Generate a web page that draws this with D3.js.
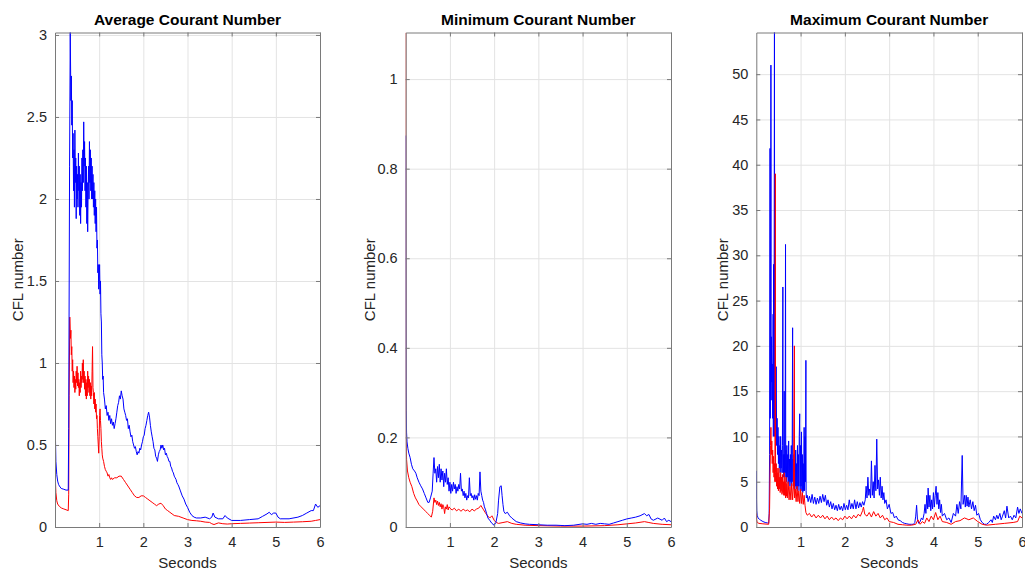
<!DOCTYPE html>
<html><head><meta charset="utf-8">
<script src="https://cdn.jsdelivr.net/npm/d3@7"></script>
<style>
html,body{margin:0;padding:0;background:#fff;}
svg{display:block;font-family:"Liberation Sans",Arial,Helvetica,sans-serif;}
</style></head>
<body><svg id="chart" width="1025" height="574"></svg>
<script>
// ---------- DATA ----------
const titles = ["Average Courant Number", "Minimum Courant Number", "Maximum Courant Number"];
const xLabel = "Seconds";
const yLabel = "CFL number";
const xTicks = [1, 2, 3, 4, 5, 6];
const yTicksAvg = [0, 0.5, 1, 1.5, 2, 2.5, 3];
const yTicksMin = [0, 0.2, 0.4, 0.6, 0.8, 1];
const yTicksMax = [0, 5, 10, 15, 20, 25, 30, 35, 40, 45, 50];
const yMaxes = [3.015, 1.104, 54.6];

// [seconds, CFL]
const avgBlue = [[0,1.72],[0.005,0.9],[0.01,0.55],[0.02,0.4],[0.04,0.32],[0.06,0.28],[0.08,0.26],[0.1,0.25],[0.14,0.235],[0.2,0.23],[0.25,0.225],[0.3,0.225],[0.31,0.6],[0.33,2.2],[0.345,3.02],[0.36,2.6],[0.37,2.75],[0.38,2.45],[0.39,2.6],[0.4,2.25],[0.41,2.4],[0.42,2.05],[0.43,2.3],[0.44,1.95],[0.45,2.42],[0.46,2.1],[0.47,2.25],[0.48,1.88],[0.49,2.2],[0.5,2.0],[0.51,2.15],[0.52,1.95],[0.53,2.28],[0.54,2.05],[0.55,2.2],[0.56,1.9],[0.57,2.15],[0.58,1.85],[0.59,2.1],[0.6,1.95],[0.61,2.25],[0.62,2.05],[0.63,2.3],[0.64,2.1],[0.65,2.47],[0.66,2.2],[0.67,2.35],[0.68,2.05],[0.69,2.25],[0.7,1.95],[0.71,2.2],[0.72,1.85],[0.73,2.1],[0.74,1.8],[0.75,2.05],[0.76,2.2],[0.77,2.0],[0.78,2.35],[0.79,2.1],[0.8,2.3],[0.81,2.05],[0.82,2.25],[0.83,2.0],[0.84,2.2],[0.85,2.0],[0.86,2.15],[0.87,1.95],[0.88,2.1],[0.89,1.9],[0.9,2.05],[0.91,1.85],[0.92,2.0],[0.93,1.8],[0.94,1.95],[0.95,1.7],[0.96,1.75],[0.97,1.55],[0.98,1.6],[0.99,1.45],[1.0,1.5],[1.01,1.6],[1.02,1.42],[1.03,1.5],[1.04,1.3],[1.05,1.25],[1.06,1.05],[1.07,1.0],[1.08,0.9],[1.09,0.92],[1.1,0.82],[1.12,0.78],[1.14,0.72],[1.16,0.74],[1.18,0.68],[1.2,0.7],[1.22,0.65],[1.24,0.68],[1.26,0.63],[1.28,0.66],[1.3,0.62],[1.32,0.64],[1.34,0.6],[1.36,0.63],[1.38,0.66],[1.4,0.7],[1.42,0.74],[1.44,0.76],[1.46,0.8],[1.48,0.78],[1.5,0.83],[1.52,0.8],[1.54,0.78],[1.56,0.72],[1.58,0.7],[1.6,0.68],[1.62,0.65],[1.64,0.66],[1.66,0.6],[1.68,0.62],[1.7,0.58],[1.72,0.55],[1.74,0.56],[1.76,0.52],[1.78,0.5],[1.8,0.48],[1.82,0.49],[1.84,0.46],[1.86,0.44],[1.88,0.46],[1.9,0.45],[1.92,0.48],[1.94,0.47],[1.96,0.5],[1.98,0.52],[2.0,0.55],[2.02,0.56],[2.04,0.6],[2.06,0.62],[2.08,0.65],[2.1,0.68],[2.12,0.7],[2.14,0.67],[2.16,0.62],[2.18,0.58],[2.2,0.55],[2.22,0.52],[2.24,0.48],[2.26,0.47],[2.28,0.43],[2.3,0.42],[2.32,0.4],[2.34,0.44],[2.36,0.46],[2.38,0.47],[2.4,0.5],[2.42,0.48],[2.44,0.5],[2.46,0.47],[2.48,0.48],[2.5,0.44],[2.52,0.45],[2.54,0.43],[2.56,0.42],[2.58,0.4],[2.6,0.4],[2.62,0.37],[2.64,0.36],[2.66,0.34],[2.68,0.33],[2.7,0.31],[2.72,0.3],[2.74,0.29],[2.76,0.27],[2.78,0.26],[2.8,0.25],[2.84,0.22],[2.88,0.19],[2.92,0.17],[2.96,0.14],[3.0,0.12],[3.05,0.09],[3.1,0.07],[3.15,0.06],[3.2,0.055],[3.3,0.055],[3.4,0.06],[3.5,0.05],[3.55,0.06],[3.58,0.085],[3.62,0.06],[3.7,0.05],[3.8,0.05],[3.85,0.07],[3.9,0.055],[4.0,0.04],[4.2,0.04],[4.4,0.045],[4.6,0.05],[4.7,0.065],[4.8,0.08],[4.85,0.09],[4.9,0.075],[4.95,0.085],[5.0,0.085],[5.05,0.06],[5.1,0.05],[5.3,0.05],[5.5,0.06],[5.6,0.07],[5.7,0.085],[5.8,0.1],[5.85,0.1],[5.9,0.14],[5.95,0.12],[6.0,0.13]];

const avgRed = [[0,0.45],[0.005,0.35],[0.01,0.28],[0.02,0.21],[0.04,0.16],[0.06,0.14],[0.1,0.125],[0.15,0.115],[0.2,0.11],[0.25,0.105],[0.3,0.1],[0.31,0.2],[0.32,0.8],[0.335,1.28],[0.35,1.15],[0.36,1.2],[0.37,1.05],[0.38,1.1],[0.39,0.95],[0.4,1.02],[0.41,0.88],[0.42,0.95],[0.43,0.85],[0.44,0.92],[0.45,0.82],[0.46,0.9],[0.47,0.84],[0.48,0.95],[0.49,0.88],[0.5,0.98],[0.51,0.86],[0.52,0.94],[0.53,0.85],[0.54,0.9],[0.55,0.8],[0.56,0.88],[0.57,0.82],[0.58,0.95],[0.59,0.85],[0.6,0.92],[0.61,0.88],[0.62,1.0],[0.63,0.9],[0.64,1.02],[0.65,0.88],[0.66,0.95],[0.67,0.84],[0.68,0.92],[0.69,0.8],[0.7,0.9],[0.71,0.78],[0.72,0.88],[0.73,0.8],[0.74,0.95],[0.75,0.85],[0.76,0.92],[0.77,0.82],[0.78,0.9],[0.79,0.8],[0.8,0.88],[0.81,0.78],[0.82,0.86],[0.83,0.8],[0.84,0.95],[0.85,1.1],[0.86,0.85],[0.87,0.82],[0.88,0.75],[0.89,0.82],[0.9,0.72],[0.91,0.78],[0.92,0.7],[0.93,0.75],[0.94,0.66],[0.95,0.68],[0.96,0.6],[0.97,0.55],[0.98,0.5],[0.99,0.45],[1.0,0.55],[1.01,0.68],[1.02,0.72],[1.03,0.65],[1.04,0.6],[1.05,0.52],[1.06,0.48],[1.07,0.44],[1.08,0.42],[1.1,0.4],[1.12,0.37],[1.14,0.35],[1.16,0.34],[1.18,0.33],[1.2,0.31],[1.22,0.32],[1.24,0.3],[1.26,0.29],[1.28,0.3],[1.3,0.29],[1.35,0.3],[1.4,0.3],[1.45,0.31],[1.5,0.31],[1.55,0.29],[1.6,0.27],[1.65,0.25],[1.7,0.23],[1.75,0.21],[1.8,0.19],[1.85,0.18],[1.9,0.18],[1.95,0.19],[2.0,0.19],[2.05,0.18],[2.1,0.17],[2.15,0.16],[2.2,0.15],[2.25,0.14],[2.3,0.13],[2.35,0.14],[2.4,0.145],[2.45,0.13],[2.5,0.11],[2.55,0.1],[2.6,0.09],[2.65,0.08],[2.7,0.07],[2.8,0.065],[2.9,0.055],[3.0,0.045],[3.1,0.04],[3.2,0.038],[3.3,0.035],[3.4,0.03],[3.5,0.028],[3.55,0.02],[3.6,0.015],[3.7,0.025],[3.8,0.02],[3.9,0.018],[4.0,0.02],[4.2,0.022],[4.4,0.024],[4.6,0.026],[4.8,0.028],[5.0,0.03],[5.2,0.028],[5.4,0.03],[5.6,0.032],[5.8,0.035],[5.9,0.04],[6.0,0.045]];

const minBlue = [[0,0.874],[0.003,0.5],[0.006,0.33],[0.01,0.26],[0.02,0.21],[0.03,0.19],[0.05,0.175],[0.07,0.165],[0.1,0.155],[0.13,0.14],[0.16,0.13],[0.2,0.125],[0.23,0.12],[0.26,0.11],[0.3,0.1],[0.34,0.092],[0.38,0.085],[0.42,0.075],[0.46,0.065],[0.5,0.055],[0.53,0.055],[0.56,0.065],[0.6,0.08],[0.62,0.12],[0.64,0.155],[0.66,0.12],[0.68,0.13],[0.7,0.1],[0.72,0.135],[0.74,0.11],[0.76,0.14],[0.78,0.1],[0.8,0.13],[0.82,0.105],[0.84,0.125],[0.86,0.09],[0.88,0.12],[0.9,0.1],[0.92,0.13],[0.94,0.095],[0.96,0.11],[0.98,0.08],[1.0,0.1],[1.02,0.075],[1.04,0.095],[1.06,0.08],[1.08,0.1],[1.1,0.085],[1.12,0.095],[1.14,0.075],[1.16,0.09],[1.18,0.08],[1.2,0.095],[1.22,0.085],[1.24,0.12],[1.26,0.08],[1.28,0.085],[1.3,0.07],[1.32,0.08],[1.34,0.065],[1.36,0.075],[1.38,0.06],[1.4,0.07],[1.42,0.065],[1.44,0.11],[1.46,0.07],[1.48,0.075],[1.5,0.065],[1.52,0.07],[1.54,0.06],[1.56,0.072],[1.58,0.062],[1.6,0.07],[1.62,0.06],[1.64,0.075],[1.66,0.07],[1.68,0.123],[1.7,0.08],[1.72,0.07],[1.74,0.06],[1.76,0.055],[1.78,0.045],[1.8,0.04],[1.83,0.03],[1.86,0.02],[1.9,0.015],[1.95,0.008],[2.0,0.004],[2.04,0.01],[2.08,0.03],[2.1,0.06],[2.13,0.09],[2.16,0.092],[2.18,0.07],[2.2,0.05],[2.22,0.035],[2.25,0.03],[2.3,0.033],[2.35,0.025],[2.4,0.02],[2.5,0.012],[2.6,0.009],[2.7,0.007],[2.8,0.006],[3.0,0.005],[3.2,0.004],[3.4,0.004],[3.6,0.003],[3.8,0.004],[4.0,0.007],[4.1,0.006],[4.2,0.008],[4.3,0.006],[4.4,0.008],[4.5,0.007],[4.6,0.006],[4.7,0.009],[4.8,0.012],[4.9,0.015],[5.0,0.018],[5.1,0.02],[5.2,0.022],[5.3,0.025],[5.4,0.03],[5.45,0.025],[5.5,0.028],[5.55,0.018],[5.6,0.015],[5.7,0.02],[5.8,0.015],[5.85,0.02],[5.9,0.012],[5.95,0.015],[6.0,0.012]];

const minRed = [[0,1.104],[0.002,0.6],[0.004,0.3],[0.008,0.2],[0.02,0.15],[0.04,0.125],[0.07,0.11],[0.1,0.1],[0.14,0.09],[0.18,0.075],[0.22,0.065],[0.26,0.058],[0.3,0.05],[0.35,0.045],[0.4,0.04],[0.45,0.035],[0.5,0.03],[0.55,0.025],[0.58,0.022],[0.61,0.035],[0.64,0.065],[0.66,0.055],[0.68,0.06],[0.7,0.05],[0.72,0.058],[0.74,0.048],[0.76,0.055],[0.78,0.045],[0.8,0.052],[0.82,0.04],[0.84,0.05],[0.86,0.045],[0.88,0.03],[0.9,0.045],[0.92,0.04],[0.94,0.05],[0.96,0.038],[0.98,0.045],[1.0,0.042],[1.05,0.038],[1.1,0.042],[1.15,0.036],[1.2,0.04],[1.25,0.035],[1.3,0.04],[1.35,0.036],[1.4,0.038],[1.45,0.034],[1.5,0.04],[1.55,0.036],[1.6,0.04],[1.65,0.042],[1.7,0.048],[1.75,0.04],[1.8,0.032],[1.85,0.025],[1.9,0.02],[1.95,0.025],[2.0,0.015],[2.05,0.01],[2.1,0.008],[2.2,0.01],[2.3,0.012],[2.4,0.008],[2.5,0.006],[2.7,0.004],[3.0,0.003],[3.5,0.002],[4.0,0.002],[4.5,0.003],[4.8,0.005],[5.0,0.007],[5.2,0.009],[5.4,0.012],[5.5,0.01],[5.6,0.008],[5.8,0.006],[6.0,0.005]];

const maxBlue = [[0,6.2],[0.005,3],[0.01,1.8],[0.02,1.3],[0.04,1.0],[0.07,0.85],[0.1,0.75],[0.15,0.6],[0.2,0.5],[0.25,0.45],[0.28,0.42],[0.29,1.5],[0.3,8],[0.31,41.8],[0.315,12],[0.32,15],[0.325,20],[0.33,51],[0.335,14],[0.34,21],[0.35,16],[0.36,18],[0.37,12],[0.38,23.5],[0.385,10],[0.39,29],[0.4,12],[0.41,56],[0.415,10],[0.42,15],[0.43,11],[0.44,14],[0.45,17.7],[0.46,9],[0.47,12],[0.48,8],[0.49,11],[0.5,7],[0.51,10],[0.52,6.5],[0.53,9],[0.54,6],[0.55,10],[0.56,6.5],[0.57,8.5],[0.58,6],[0.59,9],[0.6,26.5],[0.605,6],[0.61,8],[0.62,5.5],[0.63,15],[0.635,6],[0.64,8],[0.65,5.5],[0.66,31.2],[0.665,6],[0.67,8.5],[0.68,5],[0.69,9],[0.7,5.5],[0.71,8],[0.72,4.8],[0.73,9.5],[0.74,5],[0.75,7.5],[0.76,4.5],[0.77,8],[0.78,5],[0.79,9],[0.8,4.5],[0.81,8],[0.82,22],[0.825,5],[0.83,7.5],[0.84,4.5],[0.85,8],[0.86,4.2],[0.87,7],[0.88,4.5],[0.89,8.5],[0.9,4.2],[0.91,7],[0.92,4.5],[0.93,9],[0.94,4],[0.95,8],[0.96,4.5],[0.97,10],[0.98,12.5],[0.99,4],[1.0,9],[1.01,4.5],[1.02,10.5],[1.03,4],[1.04,8],[1.05,3.8],[1.06,7],[1.07,4],[1.08,11],[1.09,4],[1.1,10],[1.11,5],[1.12,18.4],[1.125,4],[1.13,3.2],[1.15,3.5],[1.17,2.8],[1.2,3.4],[1.23,2.7],[1.26,3.6],[1.29,2.6],[1.32,3.3],[1.35,2.5],[1.38,3.2],[1.41,2.6],[1.44,3.4],[1.47,2.7],[1.5,3.6],[1.53,2.8],[1.56,3.5],[1.59,2.4],[1.62,3.0],[1.65,2.2],[1.68,2.8],[1.71,2.0],[1.74,2.6],[1.77,1.9],[1.8,2.4],[1.83,1.8],[1.86,2.5],[1.89,1.9],[1.92,2.3],[1.95,1.8],[1.98,2.6],[2.01,1.9],[2.04,2.4],[2.07,1.9],[2.1,3.0],[2.13,2.0],[2.16,2.6],[2.19,2.0],[2.22,3.0],[2.25,2.0],[2.28,2.8],[2.31,2.1],[2.34,2.7],[2.37,2.2],[2.4,2.8],[2.43,2.4],[2.46,3.0],[2.48,4.5],[2.5,3.2],[2.52,5.5],[2.54,3.5],[2.56,4.2],[2.58,3.2],[2.6,7.3],[2.62,3.5],[2.64,5],[2.66,3.2],[2.68,6.8],[2.7,4],[2.72,9.7],[2.74,4.2],[2.76,5.2],[2.78,3.5],[2.8,5.5],[2.82,3.2],[2.84,4.5],[2.86,3.0],[2.88,3.8],[2.9,2.6],[2.93,3.0],[2.96,2.0],[3.0,2.5],[3.04,1.5],[3.08,1.6],[3.12,1.0],[3.16,1.2],[3.2,0.8],[3.25,0.7],[3.3,0.5],[3.35,0.4],[3.4,0.35],[3.45,0.3],[3.5,0.3],[3.55,0.3],[3.58,0.5],[3.6,1.2],[3.62,2.4],[3.64,0.8],[3.67,0.4],[3.7,0.6],[3.73,1.0],[3.76,0.8],[3.79,1.5],[3.81,2.5],[3.83,1.5],[3.85,3.5],[3.87,2.0],[3.88,4.3],[3.9,2.2],[3.92,3.5],[3.94,1.8],[3.96,3.0],[3.98,2.0],[4.0,3.8],[4.02,2.2],[4.04,3.5],[4.06,4.5],[4.08,2.5],[4.1,3.8],[4.12,2.0],[4.14,3.0],[4.16,1.6],[4.18,2.5],[4.2,1.2],[4.25,1.5],[4.3,0.8],[4.35,1.0],[4.4,0.5],[4.45,1.5],[4.5,1.2],[4.53,2.5],[4.56,1.5],[4.59,2.8],[4.62,2.0],[4.65,7.9],[4.67,2.5],[4.7,3.5],[4.72,2.2],[4.74,3.5],[4.76,2.3],[4.78,3.3],[4.8,2.2],[4.83,3.0],[4.86,2.0],[4.89,2.8],[4.92,1.8],[4.95,2.4],[4.98,1.3],[5.02,1.5],[5.06,0.8],[5.1,0.5],[5.15,0.3],[5.2,0.3],[5.25,0.5],[5.3,0.8],[5.33,0.5],[5.36,1.2],[5.4,0.8],[5.43,1.3],[5.46,0.9],[5.5,1.5],[5.53,0.8],[5.56,1.2],[5.6,1.8],[5.63,1.0],[5.66,2.3],[5.7,1.0],[5.74,1.2],[5.78,0.8],[5.82,1.3],[5.86,1.0],[5.9,2.2],[5.93,1.5],[5.96,2.0],[6.0,1.5]];

const maxRed = [[0,1.5],[0.005,0.8],[0.02,0.5],[0.06,0.4],[0.15,0.35],[0.28,0.3],[0.3,2],[0.32,9],[0.33,11],[0.34,8],[0.35,9.5],[0.36,7],[0.37,8.5],[0.38,6],[0.39,7.8],[0.4,5.5],[0.41,7],[0.42,5],[0.43,39],[0.435,6],[0.44,5],[0.45,7],[0.46,4.5],[0.47,6.5],[0.48,4.2],[0.49,6],[0.5,4],[0.51,6.5],[0.52,4.2],[0.53,5.5],[0.54,3.8],[0.55,6],[0.56,4],[0.57,5.5],[0.58,3.6],[0.59,5.8],[0.6,3.8],[0.61,5],[0.62,3.5],[0.63,6],[0.64,3.5],[0.65,5],[0.66,3.2],[0.67,5.5],[0.68,3.4],[0.69,4.8],[0.7,3.2],[0.72,5],[0.74,3.0],[0.76,4.5],[0.78,3.0],[0.8,4.8],[0.82,3.0],[0.84,4.5],[0.86,20],[0.865,3.2],[0.88,4.2],[0.9,2.8],[0.92,4.5],[0.94,2.8],[0.96,4.0],[0.98,2.6],[1.0,4.2],[1.02,2.6],[1.04,3.8],[1.06,2.5],[1.08,3.5],[1.1,2.4],[1.12,1.6],[1.15,1.3],[1.2,1.5],[1.25,1.1],[1.3,1.4],[1.35,1.0],[1.4,1.3],[1.45,1.0],[1.5,1.3],[1.55,0.9],[1.6,1.2],[1.65,0.8],[1.7,1.1],[1.75,0.8],[1.8,1.0],[1.85,0.7],[1.9,1.0],[1.95,0.8],[2.0,1.2],[2.05,0.9],[2.1,1.2],[2.15,0.9],[2.2,1.3],[2.25,1.0],[2.3,1.4],[2.35,1.2],[2.4,1.8],[2.42,2.2],[2.45,1.4],[2.5,1.2],[2.55,1.6],[2.6,1.1],[2.65,1.7],[2.7,1.2],[2.75,1.5],[2.8,1.0],[2.85,1.3],[2.9,0.8],[2.95,1.0],[3.0,0.6],[3.1,0.5],[3.2,0.3],[3.3,0.25],[3.4,0.2],[3.5,0.2],[3.6,0.3],[3.65,0.8],[3.7,0.3],[3.75,0.6],[3.8,0.4],[3.85,1.0],[3.9,0.6],[3.95,1.2],[4.0,0.8],[4.05,1.6],[4.1,0.8],[4.15,1.2],[4.2,0.6],[4.3,0.5],[4.4,0.3],[4.5,0.6],[4.6,0.7],[4.7,1.0],[4.8,0.8],[4.9,1.0],[5.0,0.6],[5.1,0.3],[5.2,0.2],[5.4,0.3],[5.6,0.4],[5.8,0.5],[5.9,0.6],[5.95,1.2],[6.0,1.0]];

const seriesColors = {red: "#ff0000", blue: "#0000ff"};

// ---------- DRAW ----------
const svg = d3.select("#chart");
const plotTop = 32.5, plotBottom = 527;
const panels = [
  {left: 55, right: 320, yMax: yMaxes[0], yTicks: yTicksAvg, series: [[avgRed,"red"], [avgBlue,"blue"]], title: titles[0], ylx: 37.5},
  {left: 405.7, right: 671, yMax: yMaxes[1], yTicks: yTicksMin, series: [[minRed,"red"], [minBlue,"blue"]], title: titles[1], ylx: 35.5},
  {left: 756.3, right: 1022, yMax: yMaxes[2], yTicks: yTicksMax, series: [[maxBlue,"blue"], [maxRed,"red"]], title: titles[2], ylx: 33.5}
];
const axisColor = "#7a7a7a";
const textColor = "#262626";

panels.forEach((p, i) => {
  const x = d3.scaleLinear().domain([0, 6]).range([p.left, p.right]);
  const y = d3.scaleLinear().domain([0, p.yMax]).range([plotBottom, plotTop]);
  const g = svg.append("g");
  const W = p.right - p.left, H = plotBottom - plotTop;

  // grid
  g.append("g").attr("transform", `translate(0,${plotBottom})`)
    .call(d3.axisBottom(x).tickValues(xTicks).tickSize(-H).tickFormat(""))
    .call(s => { s.select(".domain").remove(); s.selectAll("line").attr("stroke", "#e3e3e3").attr("stroke-width", 1); });
  g.append("g").attr("transform", `translate(${p.left},0)`)
    .call(d3.axisLeft(y).tickValues(p.yTicks).tickSize(-W).tickFormat(""))
    .call(s => { s.select(".domain").remove(); s.selectAll("line").attr("stroke", "#e3e3e3").attr("stroke-width", 1); });

  // lines
  const clipId = "clip" + i;
  svg.append("defs").append("clipPath").attr("id", clipId)
    .append("rect").attr("x", p.left).attr("y", plotTop).attr("width", W).attr("height", H);
  const line = d3.line().x(d => x(d[0])).y(d => y(d[1]));
  const lg = g.append("g").attr("clip-path", `url(#${clipId})`);
  p.series.forEach(([s, c]) => {
    lg.append("path").datum(s).attr("d", line)
      .attr("fill", "none").attr("stroke", seriesColors[c]).attr("stroke-width", 1)
      .attr("stroke-linejoin", "round");
  });

  // axes (ticks inside, box)
  const styleAxis = s => {
    s.select(".domain").attr("stroke", axisColor);
    s.selectAll(".tick line").attr("stroke", axisColor);
    s.selectAll("text").attr("fill", textColor).style("font-size", "14.5px")
      .style("font-family", '"Liberation Sans", Arial, sans-serif');
  };
  g.append("g").attr("transform", `translate(0,${plotBottom})`)
    .call(d3.axisBottom(x).tickValues(xTicks).tickSizeInner(-4).tickSizeOuter(0).tickPadding(10).tickFormat(d3.format("~g")))
    .call(styleAxis);
  g.append("g").attr("transform", `translate(0,${plotTop})`)
    .call(d3.axisTop(x).tickValues(xTicks).tickSizeInner(-4).tickSizeOuter(0).tickFormat(""))
    .call(styleAxis);
  g.append("g").attr("transform", `translate(${p.left},0)`)
    .call(d3.axisLeft(y).tickValues(p.yTicks).tickSizeInner(-4).tickSizeOuter(0).tickPadding(8).tickFormat(d3.format("~g")))
    .call(styleAxis);
  g.append("g").attr("transform", `translate(${p.right},0)`)
    .call(d3.axisRight(y).tickValues(p.yTicks).tickSizeInner(-4).tickSizeOuter(0).tickFormat(""))
    .call(styleAxis);

  // title
  g.append("text").attr("x", (p.left + p.right) / 2).attr("y", 25)
    .attr("text-anchor", "middle").attr("fill", "#000")
    .style("font-size", "15.5px").style("font-weight", "bold").text(p.title);
  // x label
  g.append("text").attr("x", (p.left + p.right) / 2).attr("y", 568)
    .attr("text-anchor", "middle").attr("fill", textColor)
    .style("font-size", "15px").text(xLabel);
  // y label
  g.append("text")
    .attr("transform", `translate(${p.left - p.ylx},${(plotTop + plotBottom) / 2}) rotate(-90)`)
    .attr("text-anchor", "middle").attr("dy", "0.35em").attr("fill", textColor)
    .style("font-size", "15px").text(yLabel);
});
</script></body></html>
